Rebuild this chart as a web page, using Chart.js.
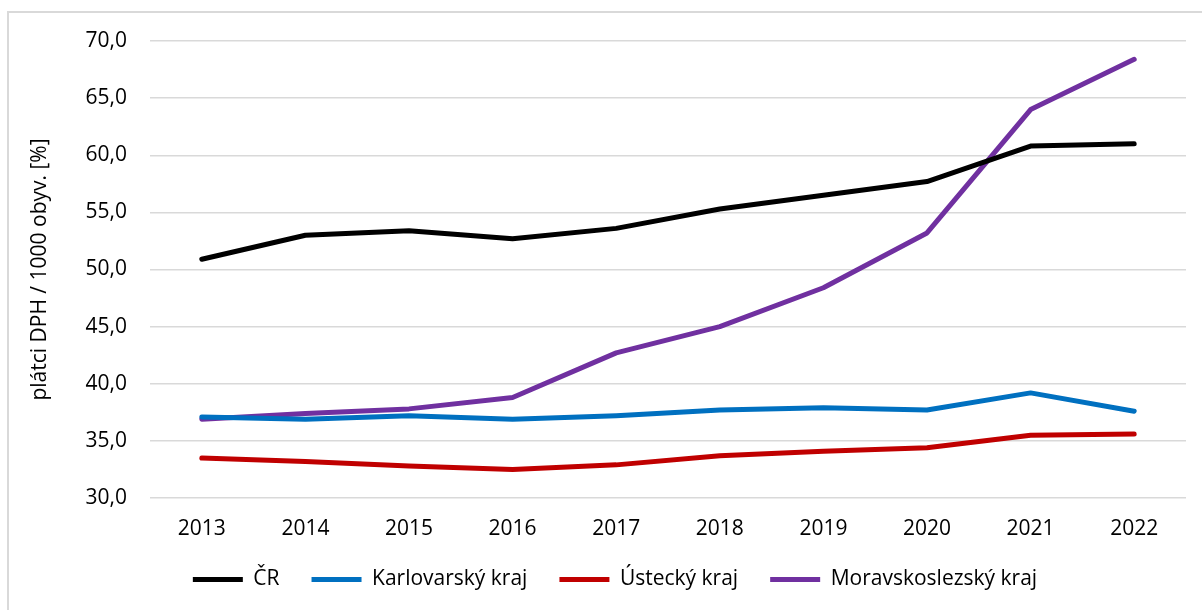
<!DOCTYPE html>
<html>
<head>
<meta charset="utf-8">
<script src="https://cdn.jsdelivr.net/npm/chart.js@4/dist/chart.umd.min.js"></script>
<style>
  html, body { margin: 0; padding: 0; background: #fff; }
  #wrap { position: relative; width: 1202px; height: 610px; overflow: hidden; }
  #frame { position: absolute; left: 7px; top: 11px; right: -5px; bottom: -5px;
           border-left: 2px solid #d9d9d9; border-top: 2px solid #d9d9d9; }
  canvas { position: absolute; left: 0; top: 0; }
</style>
</head>
<body>
<div id="wrap">
  <div id="frame"></div>
  <canvas id="chart" width="1202" height="610"></canvas>
</div>
<script>
const years = ["2013", "2014", "2015", "2016", "2017", "2018", "2019", "2020", "2021", "2022"];
const cr = [50.9, 53.0, 53.4, 52.7, 53.6, 55.3, 56.5, 57.7, 60.8, 61.0];
const karlovarsky = [37.1, 36.9, 37.2, 36.9, 37.2, 37.7, 37.9, 37.7, 39.2, 37.6];
const ustecky = [33.5, 33.2, 32.8, 32.5, 32.9, 33.7, 34.1, 34.4, 35.5, 35.6];
const moravskoslezsky = [36.9, 37.4, 37.8, 38.8, 42.7, 45.0, 48.4, 53.2, 64.0, 68.4];

const font = "'Open Sans', 'Noto Sans', sans-serif";
const textColor = "#000";

function line(label, data, color) {
  return {
    label: label,
    data: data,
    borderColor: color,
    backgroundColor: color,
    borderWidth: 5,
    borderCapStyle: "round",
    borderJoinStyle: "round",
    pointRadius: 0,
    pointStyle: "line",
    tension: 0,
    fill: false
  };
}

new Chart(document.getElementById("chart"), {
  type: "line",
  data: {
    labels: years,
    datasets: [
      line("ČR", cr, "#000000"),
      line("Karlovarský kraj", karlovarsky, "#0070C0"),
      line("Ústecký kraj", ustecky, "#C00000"),
      line("Moravskoslezský kraj", moravskoslezsky, "#7030A0")
    ]
  },
  options: {
    responsive: false,
    animation: false,
    layout: { padding: { left: 44, right: 16, top: 41, bottom: 10 } },
    plugins: {
      tooltip: { enabled: false },
      legend: {
        position: "bottom",
        labels: {
          usePointStyle: true,
          pointStyle: "line",
          pointStyleWidth: 50,
          boxHeight: 21,
          padding: 32,
          color: textColor,
          font: { family: font, size: 21 }
        }
      }
    },
    scales: {
      x: {
        offset: true,
        afterFit: function (scale) { scale.height = 39; },
        grid: { display: false },
        border: { display: false },
        ticks: { color: textColor, padding: 10, font: { family: font, size: 21 } }
      },
      y: {
        min: 30,
        max: 70,
        afterFit: function (scale) { scale.width = 106; },
        grid: { color: "#d9d9d9", lineWidth: 1.5, drawTicks: false },
        border: { display: false },
        ticks: {
          stepSize: 5,
          padding: 23,
          color: textColor,
          font: { family: font, size: 21 },
          callback: function (v) { return v.toFixed(1).replace(".", ","); }
        },
        title: {
          display: true,
          text: "plátci DPH / 1000 obyv. [%]",
          color: textColor,
          padding: { top: -17, bottom: 0 },
          font: { family: font, size: 21 }
        }
      }
    }
  }
});
</script>
</body>
</html>
